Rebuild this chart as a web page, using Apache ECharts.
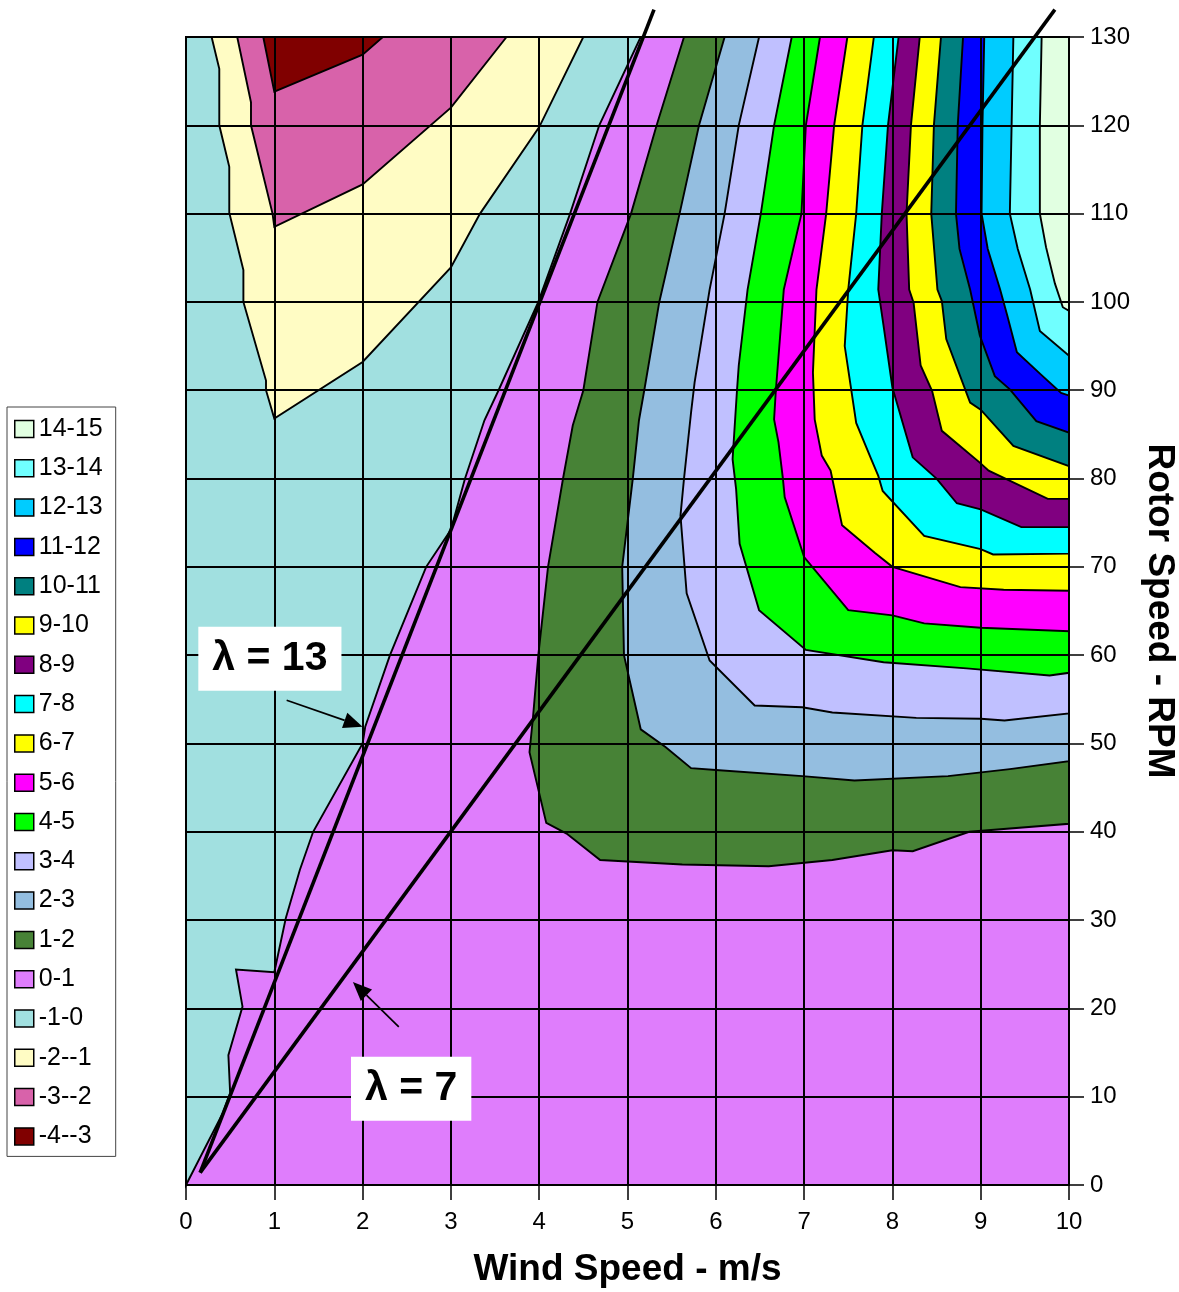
<!DOCTYPE html>
<html>
<head>
<meta charset="utf-8">
<script src="https://cdn.jsdelivr.net/npm/echarts/dist/echarts.min.js"></script>
<style>
  html, body { margin: 0; padding: 0; background: #ffffff; overflow: hidden; }
  #chart { width: 1179px; height: 1292px; }
</style>
</head>
<body>
<div id="chart"></div>
<script>
// ---- Axis extents ----
const windRange = [0, 10];      // m/s
const rpmRange = [0, 130];      // RPM

// ---- Power bands (kW), bottom to top of the scale ----
const bandNames = ['-4--3', '-3--2', '-2--1', '-1-0', '0-1', '1-2', '2-3', '3-4', '4-5', '5-6',
                   '6-7', '7-8', '8-9', '9-10', '10-11', '11-12', '12-13', '13-14', '14-15'];
const bandColors = ['#800000', '#D862AA', '#FFFCC4', '#A1E0E0', '#DF7DFC', '#478236', '#94BEE0',
                    '#C0C0FF', '#00FF00', '#FF00FF', '#FFFF00', '#00FFFF', '#800080', '#FFFF00',
                    '#008080', '#0000FF', '#00CCFF', '#70FFFF', '#E1FFE1'];

// ---- Contour lines [wind speed, rpm] ----
// negative levels: closed against the top edge
const contourNeg3 = [[0.875,130],[1.0,123.8],[2.0,128.0],[2.23,130]];
const contourNeg2 = [[0.58,130],[0.736,122.6],[0.736,120],[0.98,110],[1.0,108.5],[2.0,113.3],[3.0,122.0],[3.63,130]];
const contourNeg1 = [[0.29,130],[0.377,126.4],[0.377,120],[0.49,115.3],[0.49,110.1],[0.65,103.6],[0.65,100],
                     [0.906,91.1],[0.906,90],[1.0,86.8],[2.0,93.2],[3.0,103.9],[3.33,110],[4.0,119.8],[4.5,130]];
// zero level: from the origin up to the top edge
const contourZero = [[0,0],[0.415,8.1],[0.50,10.4],[0.48,14.7],[0.64,20.2],[0.566,24.4],[1.0,24.1],[1.13,30.2],
                     [1.29,35.7],[1.44,40],[2.0,50],[2.03,51.9],[2.31,60],[2.72,70],[3.0,74.2],[3.16,80],
                     [3.38,86.6],[3.54,90],[3.99,100],[4.35,110],[4.68,120],[5.15,130]];
// positive levels: from the top edge round to the right edge
const contour1 = [[5.64,130],[5.33,120],[5.04,110],[4.66,100],[4.5,90],[4.38,86],[4.27,80],[4.1,70],[3.99,60],
                  [3.93,53],[3.89,49],[4.08,41],[4.31,39.8],[4.69,36.8],[5.62,36.3],[6.6,36.1],[7.32,36.8],
                  [8.0,37.9],[8.23,37.8],[8.87,40.0],[10,40.9]];
const contour2 = [[6.10,130],[5.81,120],[5.59,110],[5.36,100],[5.19,90],[5.13,86.6],[5.06,80],[4.94,70],[4.96,60],
                  [5.15,51.6],[5.43,49.6],[5.72,47.2],[6.0,47.0],[6.98,46.3],[7.57,45.8],[8.63,46.3],[9.33,47.1],[10,48.0]];
const contour3 = [[6.49,130],[6.26,120],[6.10,110],[5.93,101.4],[5.76,90.9],[5.72,87.5],[5.64,80],[5.60,75.8],
                  [5.67,67.0],[5.93,59.4],[6.44,54.3],[6.98,54.1],[7.32,53.5],[8.27,52.9],[9.0,52.8],[9.27,52.6],[10,53.4]];
const contour4 = [[6.86,130],[6.66,120],[6.51,110],[6.36,101.4],[6.26,92.8],[6.24,90],[6.19,82.2],[6.23,78.8],
                  [6.27,72.6],[6.49,65.1],[7.02,60.6],[7.9,59.2],[8.84,58.5],[9.78,57.7],[10,58.0]];
const contour5 = [[7.18,130],[7.02,120],[6.97,110],[6.77,101.4],[6.68,90],[6.66,86.7],[6.71,84.1],[6.76,80],
                  [6.78,77.9],[7.0,71.1],[7.5,65.1],[8.0,64.5],[8.36,63.6],[9.0,63.1],[10,62.7]];
const contour6 = [[7.49,130],[7.34,120],[7.25,110],[7.14,101.4],[7.10,92],[7.12,86.7],[7.2,82.6],[7.3,80.9],
                  [7.43,74.7],[7.8,71.6],[8.0,70],[8.77,67.7],[9.26,67.4],[10,67.3]];
const contour7 = [[7.79,130],[7.66,120],[7.59,110],[7.50,101.4],[7.46,95],[7.59,86.3],[7.76,82.2],[7.84,80.3],
                  [7.89,78.6],[8.36,73.5],[9.0,72.0],[9.14,71.4],[10,71.5]];
const contour8 = [[8.07,130],[7.95,120],[7.88,110],[7.84,101.4],[7.90,97.3],[8.0,90.3],[8.23,82.4],[8.5,80.0],
                  [8.73,77.2],[9.0,76.5],[9.46,74.5],[10,74.5]];
const contour9 = [[8.31,130],[8.21,120],[8.16,110],[8.19,101.4],[8.24,99.9],[8.32,92.8],[8.45,89.9],[8.56,85.4],
                  [8.99,81.8],[9.09,80.9],[9.76,77.7],[10,77.7]];
const contour10 = [[8.55,130],[8.47,120],[8.44,110],[8.51,101.4],[8.56,100.1],[8.61,95.8],[8.88,88.6],[9.0,87.8],
                   [9.37,83.7],[10,81.4]];
const contour11 = [[8.80,130],[8.74,120],[8.72,110],[8.76,106],[8.88,101.4],[8.99,96.2],[9.16,91.6],[9.33,90.1],
                   [9.63,86.5],[10,85.2]];
const contour12 = [[9.04,130],[9.02,120],[9.01,110],[9.08,106],[9.22,101.4],[9.30,98.5],[9.41,94.3],[9.68,91.8],
                   [9.91,89.7],[10,89.4]];
const contour13 = [[9.37,130],[9.35,120],[9.33,110],[9.42,106],[9.56,101.4],[9.67,96.7],[10,93.9]];
const contour14 = [[9.69,130],[9.67,120],[9.67,110],[9.74,106.2],[9.84,102.1],[9.93,99.4],[10,99.0]];

// ---- Constant tip-speed-ratio lines ----
const lambda13Line = [[0.16,1.4],[5.3,133.1]];
const lambda7Line = [[0.16,1.4],[9.84,133.1]];

// ---- Callouts ----
const calloutLabels = [
  { text: 'λ = 13', at: [0.95, 59.6] },
  { text: 'λ = 7', at: [2.55, 10.9] }
];
const calloutArrows = [
  [1.14, 54.9, 2.0, 51.9],
  [2.41, 17.9, 1.89, 23.0]
];

const FONT = "'Liberation Sans', Arial, Helvetica, sans-serif";
const colorOf = name => bandColors[bandNames.indexOf(name)];

// region polygons
const plotRect = [[windRange[0], rpmRange[0]], [windRange[1], rpmRange[0]],
                  [windRange[1], rpmRange[1]], [windRange[0], rpmRange[1]]];
const topRight = [windRange[1], rpmRange[1]];
const topLeft = [windRange[0], rpmRange[1]];

const regions = [
  ['0-1', plotRect],
  ['-1-0', contourZero.concat([topLeft])],
  ['-2--1', contourNeg1],
  ['-3--2', contourNeg2],
  ['-4--3', contourNeg3],
  ['1-2', contour1.concat([topRight])],
  ['2-3', contour2.concat([topRight])],
  ['3-4', contour3.concat([topRight])],
  ['4-5', contour4.concat([topRight])],
  ['5-6', contour5.concat([topRight])],
  ['6-7', contour6.concat([topRight])],
  ['7-8', contour7.concat([topRight])],
  ['8-9', contour8.concat([topRight])],
  ['9-10', contour9.concat([topRight])],
  ['10-11', contour10.concat([topRight])],
  ['11-12', contour11.concat([topRight])],
  ['12-13', contour12.concat([topRight])],
  ['13-14', contour13.concat([topRight])],
  ['14-15', contour14.concat([topRight])]
];

function regionSeries(name, points) {
  const color = colorOf(name);
  return {
    type: 'custom',
    name: name,
    coordinateSystem: 'cartesian2d',
    silent: true,
    z: 2,
    itemStyle: { color: color },
    encode: { x: 0, y: 1 },
    data: points,
    renderItem: function (params, api) {
      if (params.dataIndex !== 0) return null;
      return {
        type: 'polygon',
        shape: { points: points.map(p => api.coord(p)) },
        style: { fill: color, stroke: '#000', lineWidth: 1.9, lineJoin: 'miter' }
      };
    }
  };
}

const series = regions.map(r => regionSeries(r[0], r[1]));

[lambda13Line, lambda7Line].forEach((line, i) => {
  series.push({
    type: 'line',
    name: i === 0 ? 'tsr13' : 'tsr7',
    data: line,
    symbol: 'none',
    clip: false,
    silent: true,
    z: 5,
    lineStyle: { color: '#000', width: 3.6 }
  });
});

series.push({
  type: 'custom',
  name: 'callout-arrows',
  coordinateSystem: 'cartesian2d',
  silent: true,
  z: 6,
  encode: { x: [0, 2], y: [1, 3] },
  data: calloutArrows,
  renderItem: function (params, api) {
    const a = api.coord([api.value(0), api.value(1)]);
    const b = api.coord([api.value(2), api.value(3)]);
    const dx = b[0] - a[0], dy = b[1] - a[1];
    const len = Math.sqrt(dx * dx + dy * dy);
    const ux = dx / len, uy = dy / len;
    const headL = 19, headW = 8;
    const base = [b[0] - ux * headL, b[1] - uy * headL];
    return {
      type: 'group',
      children: [
        { type: 'line', shape: { x1: a[0], y1: a[1], x2: base[0], y2: base[1] },
          style: { stroke: '#000', lineWidth: 1.7 } },
        { type: 'polygon',
          shape: { points: [b, [base[0] - uy * headW, base[1] + ux * headW], [base[0] + uy * headW, base[1] - ux * headW]] },
          style: { fill: '#000' } }
      ]
    };
  }
});

series.push({
  type: 'custom',
  name: 'callout-labels',
  coordinateSystem: 'cartesian2d',
  silent: true,
  z: 7,
  encode: { x: 0, y: 1 },
  data: calloutLabels.map(c => c.at),
  renderItem: function (params, api) {
    const p = api.coord([api.value(0), api.value(1)]);
    return {
      type: 'text',
      x: p[0], y: p[1],
      style: {
        text: calloutLabels[params.dataIndex].text,
        font: 'bold 41px ' + FONT,
        fill: '#000',
        align: 'center',
        verticalAlign: 'middle',
        backgroundColor: '#ffffff',
        padding: [12, 14, 11, 14]
      }
    };
  }
});

const chart = echarts.init(document.getElementById('chart'), null, { renderer: 'canvas' });
chart.setOption({
  animation: false,
  backgroundColor: '#ffffff',
  grid: { left: 186, right: 110, top: 37, bottom: 107, containLabel: false, outerBoundsMode: 'none' },
  legend: {
    orient: 'vertical',
    left: 7,
    top: 407,
    data: bandNames.slice().reverse(),
    icon: 'rect',
    itemWidth: 19,
    itemHeight: 17,
    itemGap: 13.3,
    padding: [9, 13, 7, 7],
    borderColor: '#444',
    borderWidth: 1,
    selectedMode: false,
    itemStyle: { borderColor: '#000', borderWidth: 1.5 },
    textStyle: { fontFamily: FONT, fontSize: 25, color: '#000', lineHeight: 26 }
  },
  xAxis: {
    type: 'value',
    min: windRange[0],
    max: windRange[1],
    interval: 1,
    z: 3,
    name: 'Wind Speed - m/s',
    nameLocation: 'middle',
    nameGap: 66,
    nameTextStyle: { fontFamily: FONT, fontSize: 37, fontWeight: 'bold', color: '#000' },
    axisLine: { show: true, onZero: false, lineStyle: { color: '#000', width: 2 } },
    axisTick: { show: true, length: 15, lineStyle: { color: '#000', width: 1.5 } },
    axisLabel: { fontFamily: FONT, fontSize: 24, color: '#000', margin: 25 },
    splitLine: { show: true, lineStyle: { color: '#000', width: 2 } }
  },
  yAxis: {
    type: 'value',
    position: 'right',
    min: rpmRange[0],
    max: rpmRange[1],
    interval: 10,
    z: 3,
    name: 'Rotor Speed - RPM',
    nameLocation: 'middle',
    nameRotate: -90,
    nameGap: 60,
    nameTextStyle: { fontFamily: FONT, fontSize: 37, fontWeight: 'bold', color: '#000' },
    axisLine: { show: true, onZero: false, lineStyle: { color: '#000', width: 2 } },
    axisTick: { show: true, length: 15, lineStyle: { color: '#000', width: 1.5 } },
    axisLabel: { fontFamily: FONT, fontSize: 24, color: '#000', margin: 21 },
    splitLine: { show: true, lineStyle: { color: '#000', width: 2 } }
  },
  series: series
});
</script>
</body>
</html>
